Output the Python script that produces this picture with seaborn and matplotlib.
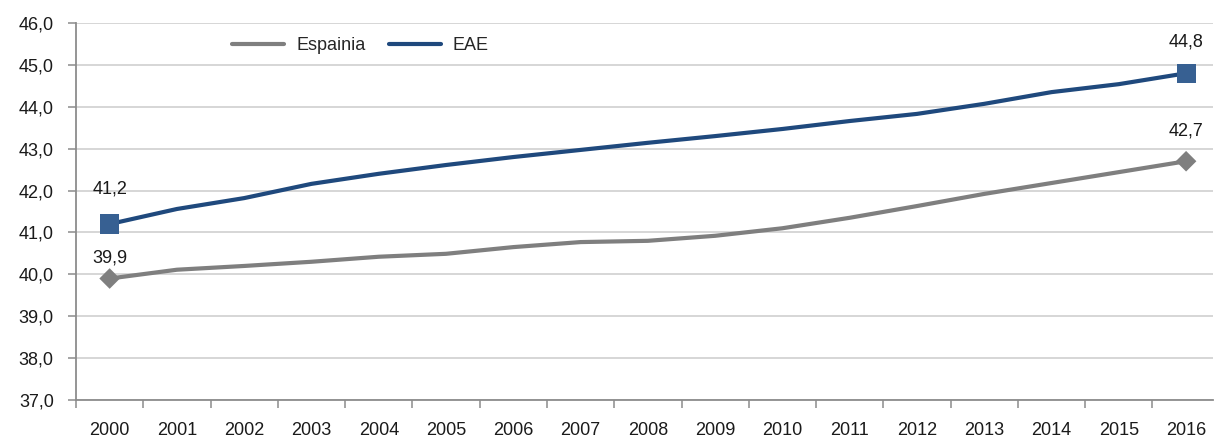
import matplotlib
matplotlib.use("Agg")
import matplotlib.pyplot as plt
from matplotlib.lines import Line2D
from matplotlib.ticker import FixedLocator, FuncFormatter
import seaborn as sns
import pandas as pd
import numpy as np

years = [str(y) for y in range(2000, 2017)]
espainia = [39.9, 40.11, 40.2, 40.3, 40.42, 40.49, 40.65, 40.77, 40.8,
            40.92, 41.1, 41.35, 41.63, 41.92, 42.18, 42.44, 42.7]
eae = [41.2, 41.56, 41.82, 42.16, 42.40, 42.61, 42.80, 42.97, 43.14,
       43.30, 43.47, 43.66, 43.83, 44.07, 44.35, 44.54, 44.8]
series_names = ["Espainia", "EAE"]
line_colors = {"Espainia": "#7F7F7F", "EAE": "#1F497D"}
marker_colors = {"Espainia": "#7F7F7F", "EAE": "#376092"}

sns.set_theme(style="white")
plt.rcParams["font.family"] = ["Liberation Sans", "DejaVu Sans"]
FS = 13

idx = np.arange(len(years))
df = pd.DataFrame({
    "pos": np.concatenate([idx, idx]),
    "value": espainia + eae,
    "serie": [series_names[0]] * len(years) + [series_names[1]] * len(years),
})

fig = plt.figure(figsize=(12.2, 4.42), dpi=100)
ax = fig.add_axes([76 / 1220, 1 - 400 / 442, (1213 - 76) / 1220, 377 / 442])

sns.lineplot(data=df, x="pos", y="value", hue="serie", palette=line_colors,
             linewidth=3.0, ax=ax, legend=False, zorder=3)

# endpoint markers
ends = df[df["pos"].isin([idx[0], idx[-1]])]
sns.scatterplot(data=ends[ends["serie"] == "Espainia"], x="pos", y="value",
                marker="D", s=110, color=marker_colors["Espainia"],
                edgecolor="none", ax=ax, legend=False, zorder=4)
sns.scatterplot(data=ends[ends["serie"] == "EAE"], x="pos", y="value",
                marker="s", s=190, color=marker_colors["EAE"],
                edgecolor="none", ax=ax, legend=False, zorder=4)

# value labels at the first and last year (vertical offsets in points)
label_offsets = {("Espainia", 0): 9, ("Espainia", 16): 16,
                 ("EAE", 0): 19, ("EAE", 16): 16.5}
for name, vals in zip(series_names, (espainia, eae)):
    for i in (0, len(years) - 1):
        ax.annotate(f"{vals[i]:.1f}".replace(".", ","), (idx[i], vals[i]),
                    xytext=(0, label_offsets[(name, i)]), textcoords="offset points",
                    ha="center", va="bottom", fontsize=FS, color="#1A1A1A")

ax.set_xlim(-0.5, len(years) - 0.6)
ax.set_ylim(37, 46)
ax.set_yticks(np.arange(37, 46.5, 1.0))
ax.yaxis.set_major_formatter(FuncFormatter(lambda v, p: f"{v:.1f}".replace(".", ",")))
ax.set_xticks(idx)
ax.set_xticklabels(years)
ax.xaxis.set_minor_locator(FixedLocator(np.arange(-0.5, len(years), 1.0)))
ax.set_xlabel("")
ax.set_ylabel("")

ax.grid(axis="y", color="#D0D0D0", linewidth=1.2, zorder=0)
ax.grid(axis="x", visible=False)
for side in ("top", "right"):
    ax.spines[side].set_visible(False)
for side in ("left", "bottom"):
    ax.spines[side].set_color("#8C8C8C")
    ax.spines[side].set_linewidth(1.3)

ax.tick_params(axis="x", which="major", length=0, pad=16, labelsize=FS,
               labelcolor="#1A1A1A")
ax.tick_params(axis="x", which="minor", bottom=True, length=6, width=1.1,
               color="#8C8C8C", direction="out")
ax.tick_params(axis="y", which="major", left=True, length=6, width=1.1,
               color="#8C8C8C", direction="out", labelsize=FS,
               labelcolor="#1A1A1A", pad=10)

handles = [Line2D([], [], color=line_colors[n], linewidth=3.0) for n in series_names]
fig.legend(handles, series_names, loc="center left",
           bbox_to_anchor=(232 / 1220, 1 - 46 / 442), ncol=2, frameon=False,
           fontsize=FS, handlelength=2.9, handletextpad=0.65, columnspacing=1.3,
           borderpad=0, borderaxespad=0)

fig.savefig("out.png", dpi=100, facecolor="white")
